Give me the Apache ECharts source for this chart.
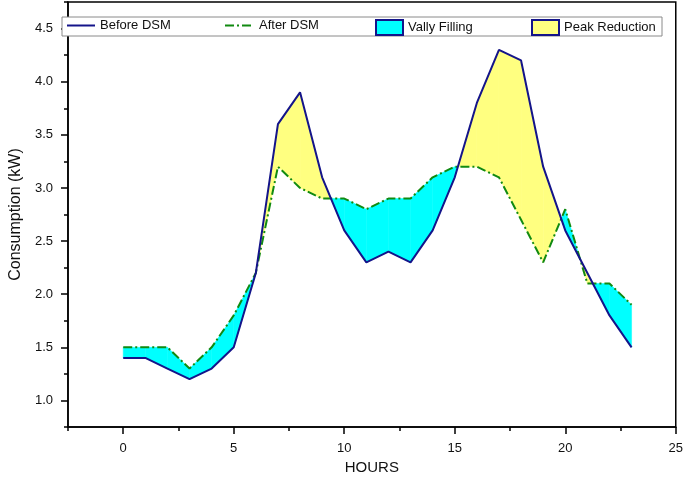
<!DOCTYPE html>
<html>
<head>
<meta charset="utf-8">
<script src="https://cdn.jsdelivr.net/npm/echarts@6/dist/echarts.min.js"></script>
<style>
    html, body { margin: 0; padding: 0; background: #fff; }
    #chart { width: 686px; height: 480px; }
</style>
</head>
<body>
<div id="chart"></div>
<script>
const hours = [0, 1, 2, 3, 4, 5, 6, 7, 8, 9, 10, 11, 12, 13, 14, 15, 16, 17, 18, 19, 20, 21, 22, 23];
const beforeDSM = [1.4, 1.4, 1.3, 1.2, 1.3, 1.5, 2.2, 3.6, 3.9, 3.1, 2.6, 2.3, 2.4, 2.3, 2.6, 3.1, 3.8, 4.3, 4.2, 3.2, 2.6, 2.2, 1.8, 1.5];
const afterDSM = [1.5, 1.5, 1.5, 1.3, 1.5, 1.8, 2.2, 3.2, 3.0, 2.9, 2.9, 2.8, 2.9, 2.9, 3.1, 3.2, 3.2, 3.1, 2.7, 2.3, 2.8, 2.1, 2.1, 1.9];
const xTicks = [0, 5, 10, 15, 20, 25];
const xMinorTicks = [-2.5, 2.5, 7.5, 12.5, 17.5, 22.5];
const yTicks = [1.0, 1.5, 2.0, 2.5, 3.0, 3.5, 4.0, 4.5];
const yMinorTicks = [0.75, 1.25, 1.75, 2.25, 2.75, 3.25, 3.75, 4.25, 4.75];

const NAVY = '#14148a';
const GREEN = '#118a11';
const FONT = 'Liberation Sans';

const chart = echarts.init(document.getElementById('chart'), null, { renderer: 'canvas' });

// fill between the two lines, only where sign of (after - before) matches
const makeFill = (sign, color) => (params, api) => {
    const i = api.value(0);
    if (i >= hours.length - 1) return null;
    const b0 = api.coord([hours[i], beforeDSM[i]]);
    const b1 = api.coord([hours[i + 1], beforeDSM[i + 1]]);
    const a0 = api.coord([hours[i], afterDSM[i]]);
    const a1 = api.coord([hours[i + 1], afterDSM[i + 1]]);
    const d0 = (afterDSM[i] - beforeDSM[i]) * sign;
    const d1 = (afterDSM[i + 1] - beforeDSM[i + 1]) * sign;
    let pts = null;
    if (d0 >= 0 && d1 >= 0) {
        if (d0 === 0 && d1 === 0) return null;
        pts = [b0, b1, a1, a0];
    } else if (d0 > 0 || d1 > 0) {
        const t = d0 / (d0 - d1);
        const cx = b0[0] + (b1[0] - b0[0]) * t;
        const cy = b0[1] + (b1[1] - b0[1]) * t;
        pts = d0 > 0 ? [b0, [cx, cy], a0] : [[cx, cy], b1, a1];
    }
    if (!pts) return null;
    return {
        type: 'polygon',
        shape: { points: pts },
        style: { fill: color, stroke: color, lineWidth: 0.5 }
    };
};

const fillData = hours.map((h, i) => [i, beforeDSM[i], afterDSM[i]]);

const legendBase = {
    top: 19,
    padding: 0,
    itemHeight: 15,
    textStyle: { fontFamily: FONT, fontSize: 13, color: '#111' },
    selectedMode: false
};

const option = {
    animation: false,
    backgroundColor: '#fff',
    grid: {
        left: 53,
        right: 8,
        top: 2,
        bottom: 53,
        show: true,
        borderColor: '#000',
        borderWidth: 1.5,
        backgroundColor: 'transparent'
    },
    graphic: [{
        type: 'rect',
        z: 3,
        shape: { x: 62, y: 17, width: 600, height: 19 },
        style: { fill: '#fff', stroke: '#8a8a8a', lineWidth: 1 }
    }],
    legend: [
        Object.assign({}, legendBase, {
            left: 66, itemWidth: 28, data: ['Before DSM'],
            itemStyle: { opacity: 0 }
        }),
        Object.assign({}, legendBase, {
            left: 224, itemWidth: 29, data: ['After DSM'],
            itemStyle: { opacity: 0 }
        }),
        Object.assign({}, legendBase, {
            left: 375, itemWidth: 27,
            data: [{ name: 'Vally Filling', icon: 'rect' }],
            itemStyle: { borderColor: NAVY, borderWidth: 2 }
        }),
        Object.assign({}, legendBase, {
            left: 531, itemWidth: 27,
            data: [{ name: 'Peak Reduction', icon: 'rect' }],
            itemStyle: { borderColor: NAVY, borderWidth: 2 }
        })
    ],
    xAxis: [{
        type: 'value',
        min: -2.5,
        max: 25,
        name: 'HOURS',
        nameLocation: 'middle',
        nameGap: 32,
        nameTextStyle: { fontFamily: FONT, fontSize: 15, color: '#111' },
        splitLine: { show: false },
        axisLine: { show: true, onZero: false, lineStyle: { color: '#000', width: 1.5 } },
        axisTick: { show: true, inside: false, length: 7, customValues: xTicks, lineStyle: { color: '#000', width: 1.5 } },
        axisLabel: {
            customValues: xTicks,
            margin: 15,
            fontFamily: FONT,
            fontSize: 13,
            color: '#111'
        }
    }, {
        type: 'value',
        min: -2.5,
        max: 25,
        position: 'bottom',
        offset: 0,
        splitLine: { show: false },
        axisLine: { show: false, onZero: false },
        axisLabel: { show: false },
        axisTick: { show: true, length: 4, customValues: xMinorTicks, lineStyle: { color: '#000', width: 1.5 } }
    }],
    yAxis: [{
        type: 'value',
        min: 0.75,
        max: 4.75,
        name: 'Consumption (kW)',
        nameLocation: 'middle',
        nameGap: 40,
        nameTextStyle: { fontFamily: FONT, fontSize: 16, color: '#111' },
        splitLine: { show: false },
        axisLine: { show: true, onZero: false, lineStyle: { color: '#000', width: 1.5 } },
        axisTick: { show: true, length: 7, customValues: yTicks, lineStyle: { color: '#000', width: 1.5 } },
        axisLabel: {
            customValues: yTicks,
            margin: 15,
            fontFamily: FONT,
            fontSize: 13,
            color: '#111',
            formatter: (v) => v.toFixed(1)
        }
    }, {
        type: 'value',
        min: 0.75,
        max: 4.75,
        position: 'left',
        offset: 0,
        splitLine: { show: false },
        axisLine: { show: false, onZero: false },
        axisLabel: { show: false },
        axisTick: { show: true, length: 4, customValues: yMinorTicks, lineStyle: { color: '#000', width: 1.5 } }
    }],
    series: [
        {
            name: 'Vally Filling',
            type: 'custom',
            data: fillData,
            encode: { x: 0, y: [1, 2] },
            itemStyle: { color: '#00ffff' },
            renderItem: makeFill(1, '#00ffff'),
            z: 1
        },
        {
            name: 'Peak Reduction',
            type: 'custom',
            data: fillData,
            encode: { x: 0, y: [1, 2] },
            itemStyle: { color: '#ffff80' },
            renderItem: makeFill(-1, '#ffff80'),
            z: 1
        },
        {
            name: 'After DSM',
            type: 'line',
            data: hours.map((h, i) => [h, afterDSM[i]]),
            symbol: 'none',
            itemStyle: { color: GREEN },
            lineStyle: { color: GREEN, width: 2, type: [9, 3, 2, 3] },
            z: 3
        },
        {
            name: 'Before DSM',
            type: 'line',
            data: hours.map((h, i) => [h, beforeDSM[i]]),
            symbol: 'none',
            itemStyle: { color: NAVY },
            lineStyle: { color: NAVY, width: 2 },
            z: 4
        }
    ]
};

chart.setOption(option);
</script>
</body>
</html>
